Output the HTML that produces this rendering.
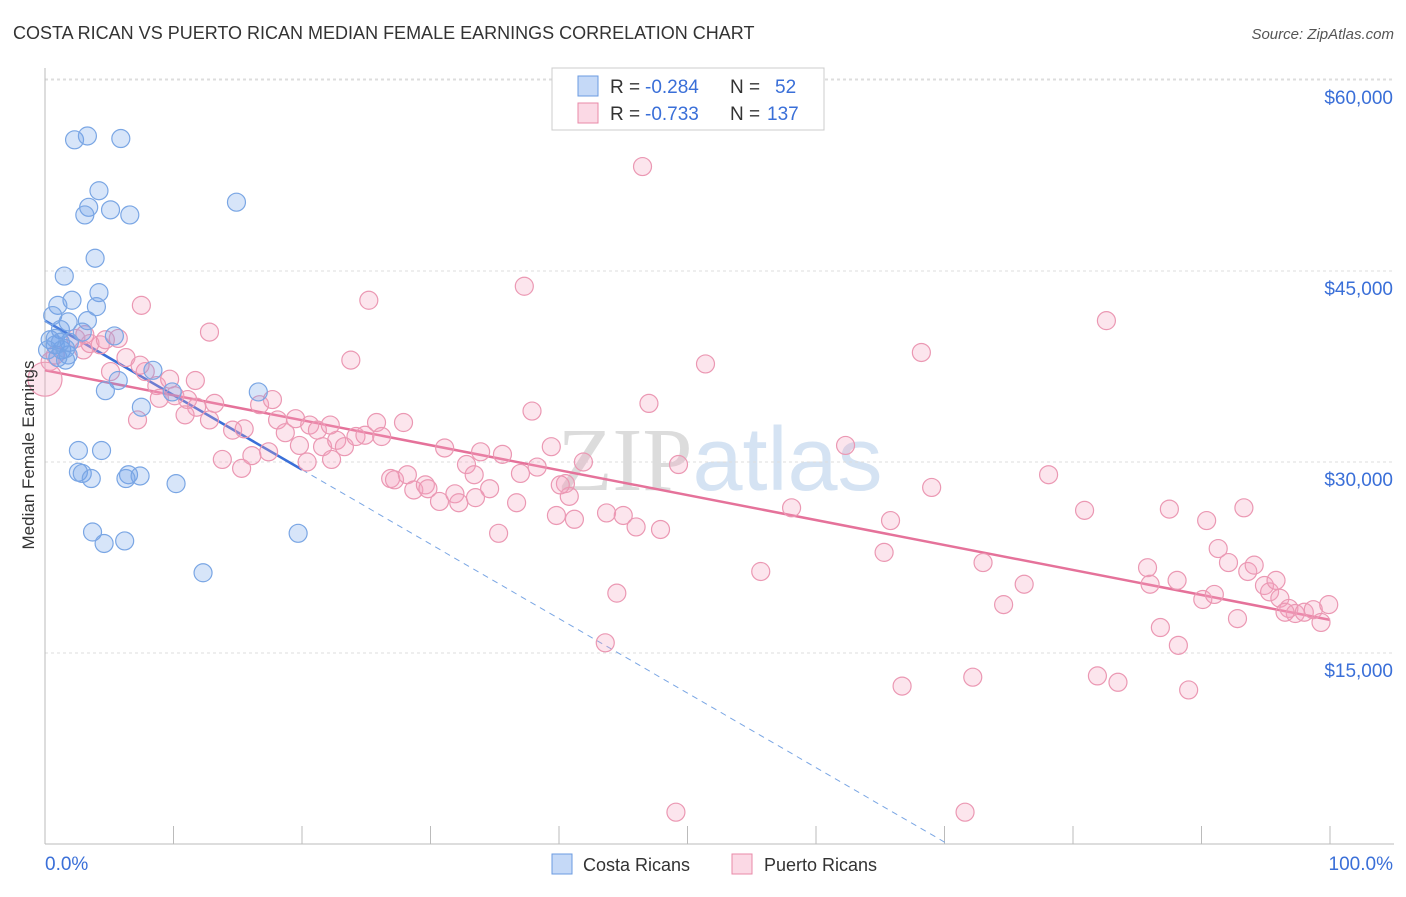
<!DOCTYPE html>
<html><head><meta charset="utf-8"><style>
body{margin:0;background:#fff;font-family:"Liberation Sans",sans-serif;}
svg text{font-family:"Liberation Sans",sans-serif;}
</style></head><body>
<svg id="chart" width="1406" height="892" xmlns="http://www.w3.org/2000/svg">
<text x="13" y="39" font-size="18" fill="#333">COSTA RICAN VS PUERTO RICAN MEDIAN FEMALE EARNINGS CORRELATION CHART</text>
<text x="1394" y="39" font-size="15" fill="#555" font-style="italic" text-anchor="end">Source: ZipAtlas.com</text>
<text x="720" y="490" font-size="90" text-anchor="middle" fill="#e6e6e6"><tspan font-family="Liberation Serif" fill="#dcdcdc">ZIP</tspan><tspan fill="#d5e3f3">atlas</tspan></text>
<g id="grid"></g>
<g id="axes"></g>
<g id="trend"></g>
<g id="pts"></g>
<text transform="translate(34,455) rotate(-90)" font-size="17" fill="#333" text-anchor="middle">Median Female Earnings</text>
<g>
<rect x="552" y="68" width="272" height="62" fill="#fff" stroke="#ccc"/>
<rect x="578" y="76" width="20" height="20" fill="rgba(110,160,235,0.4)" stroke="#6b9be0"/>
<rect x="578" y="103" width="20" height="20" fill="rgba(245,160,190,0.4)" stroke="#e88aa8"/>
<text x="610" y="93" font-size="19" fill="#333">R =</text>
<text x="645" y="93" font-size="19" fill="#3a6fd8">-0.284</text>
<text x="730" y="93" font-size="19" fill="#333">N =</text>
<text x="775" y="93" font-size="19" fill="#3a6fd8">52</text>
<text x="610" y="120" font-size="19" fill="#333">R =</text>
<text x="645" y="120" font-size="19" fill="#3a6fd8">-0.733</text>
<text x="730" y="120" font-size="19" fill="#333">N =</text>
<text x="767" y="120" font-size="19" fill="#3a6fd8">137</text>
</g>
<g>
<rect x="552" y="854" width="20" height="20" fill="rgba(110,160,235,0.4)" stroke="#6b9be0"/>
<text x="583" y="871" font-size="18" fill="#333">Costa Ricans</text>
<rect x="732" y="854" width="20" height="20" fill="rgba(245,160,190,0.4)" stroke="#e88aa8"/>
<text x="764" y="871" font-size="18" fill="#333">Puerto Ricans</text>
</g>
</svg>
<script>
const yTicks=[15000,30000,45000,60000];
const yTickLabels=["$15,000","$30,000","$45,000","$60,000"];
const xTicks=[0,10,20,30,40,50,60,70,80,90,100];
const blueX=[2.3,3.3,5.9,4.2,3.4,3.1,5.1,6.6,14.9,3.9,1.5,4.2,2.1,1.0,4.0,0.6,3.3,1.8,1.2,2.9,5.4,0.4,0.8,1.3,1.8,1.0,1.6,8.4,5.7,4.7,16.6,9.9,7.5,2.6,4.4,2.6,2.9,3.6,6.5,7.4,6.3,10.2,3.7,4.6,6.2,19.7,12.3,0.2,0.8,1.9,1.2,1.6];
const blueY=[55300,55600,55400,51300,50000,49400,49800,49400,50400,46000,44600,43300,42700,42300,42200,41500,41100,41000,40400,40200,39900,39600,39200,38800,38400,38200,38000,37200,36400,35600,35500,35500,34300,30900,30900,29200,29100,28700,29000,28900,28700,28300,24500,23600,23800,24400,21300,38800,39700,39400,39400,38900];
const pinkX=[46.5,37.3,25.2,82.6,7.5,12.8,68.2,51.4,23.8,5.7,4.3,2.4,3.0,3.5,4.7,6.3,7.8,8.7,9.7,10.1,11.1,11.8,13.2,14.6,15.5,16.7,17.7,18.1,18.7,19.5,20.6,21.2,21.6,22.7,23.3,24.2,24.9,25.8,26.2,27.9,13.8,15.3,17.4,19.8,20.4,22.3,26.9,27.2,28.2,28.7,29.6,29.8,30.7,31.1,31.9,32.2,32.8,33.4,33.9,34.6,35.3,35.6,36.7,37.9,38.3,39.4,39.8,40.5,40.8,41.2,41.9,43.7,44.5,45.0,46.0,47.0,47.9,49.3,43.6,49.1,58.1,55.7,62.3,65.3,65.8,69.0,66.7,71.6,73.0,72.2,74.6,76.2,78.1,80.9,81.9,83.5,85.8,86.0,86.8,87.5,88.1,88.2,89.0,90.1,90.4,91.0,91.3,92.1,92.8,93.3,93.6,94.1,94.9,95.3,95.8,96.1,96.8,97.3,98.0,98.7,99.3,99.9,96.5,8.9,10.9,7.2,16.1,22.2,40.1,37.0,33.5,12.8,11.7,7.4,3.1,5.1,0.4,0.8];
const pinkY=[53200,43800,42700,41100,42300,40200,38600,37700,38000,39700,39200,39700,38800,39300,39600,38200,37100,36000,36500,35200,34900,34300,34600,32500,32600,34500,34900,33300,32300,33400,32900,32500,31200,31700,31200,32000,32100,33100,32000,33100,30200,29500,30800,31300,30000,30200,28700,28600,29000,27800,28200,27900,26900,31100,27500,26800,29800,29000,30800,27900,24400,30600,26800,34000,29600,31200,25800,28300,27300,25500,30000,26000,19700,25800,24900,34600,24700,29800,15800,2500,26400,21400,31300,22900,25400,28000,12400,2500,22100,13100,18800,20400,29000,26200,13200,12700,21700,20400,17000,26300,20700,15600,12100,19200,25400,19600,23200,22100,17700,26400,21400,21900,20300,19800,20700,19300,18500,18100,18200,18400,17400,18800,18200,35000,33700,33300,30500,32900,28200,29100,27200,33300,36400,37600,40000,37100,37900,38400];
const bigPink=[0,36500];
const blueTrend=[41100,29400];
const blueTrendEnd=20;
const pinkTrend=[37200,17600];
const NS="http://www.w3.org/2000/svg";
const X=p=>45+p*12.85;
const Y=v=>844-v/78.53;
function mk(tag,attrs,parent){const e=document.createElementNS(NS,tag);for(const k in attrs)e.setAttribute(k,attrs[k]);parent.appendChild(e);return e;}
const grid=document.getElementById('grid'),axes=document.getElementById('axes'),trend=document.getElementById('trend'),pts=document.getElementById('pts');
yTicks.forEach((t,i)=>{
 const l=mk('line',{x1:45,x2:1394,y1:Y(t),y2:Y(t),stroke:'#ddd','stroke-dasharray':'3,3'},grid);
 
 
 const tx=mk('text',{x:1393,y:Y(t)+24,'font-size':19,fill:'#3a6fd8','text-anchor':'end'},axes);
 tx.textContent=yTickLabels[i];
 
 
});
const topGrid=mk('line',{x1:45,x2:1394,y1:79,y2:79,stroke:'#ddd','stroke-dasharray':'3,3'},grid);


const xa=mk('line',{x1:45,x2:1394,y1:844,y2:844,stroke:'#bbb'},axes);


const ya=mk('line',{x1:45,x2:45,y1:68,y2:844,stroke:'#bbb'},axes);


xTicks.forEach(t=>{
 const l=mk('line',{x1:X(t),x2:X(t),y1:826,y2:844,stroke:'#bbb'},axes);
 
 
});
const xl0=mk('text',{x:45,y:870,'font-size':19,fill:'#3a6fd8'},axes);xl0.textContent='0.0%';


const xl1=mk('text',{x:1393,y:870,'font-size':19,fill:'#3a6fd8','text-anchor':'end'},axes);xl1.textContent='100.0%';


function dot(x,y,r,cls){
 return mk('circle',{cx:X(x),cy:Y(y),r:r,fill:cls?'rgba(110,160,235,0.28)':'rgba(245,160,190,0.28)',stroke:cls?'#7aa6e4':'#eb98b3','stroke-width':1.2},pts);
}
pinkX.forEach((x,i)=>{const c=dot(x,pinkY[i],9,false);
 
 });
const bp=dot(bigPink[0],bigPink[1],17,false);


blueX.forEach((x,i)=>{const c=dot(x,blueY[i],9,true);
 
 });
const slope=(blueTrend[1]-blueTrend[0])/blueTrendEnd;
const zeroX=-blueTrend[0]/slope;
const bd=mk('line',{x1:X(blueTrendEnd),y1:Y(blueTrend[1]),x2:X(zeroX),y2:Y(0),stroke:'#7aa6e4','stroke-dasharray':'6,5','stroke-width':1},trend);


const bt=mk('line',{x1:X(0),y1:Y(blueTrend[0]),x2:X(blueTrendEnd),y2:Y(blueTrend[1]),stroke:'#3a6fd8','stroke-width':2.5},trend);


const pt=mk('line',{x1:X(0),y1:Y(pinkTrend[0]),x2:X(100),y2:Y(pinkTrend[1]),stroke:'#e5729a','stroke-width':2.5},trend);


</script>
</body></html>
